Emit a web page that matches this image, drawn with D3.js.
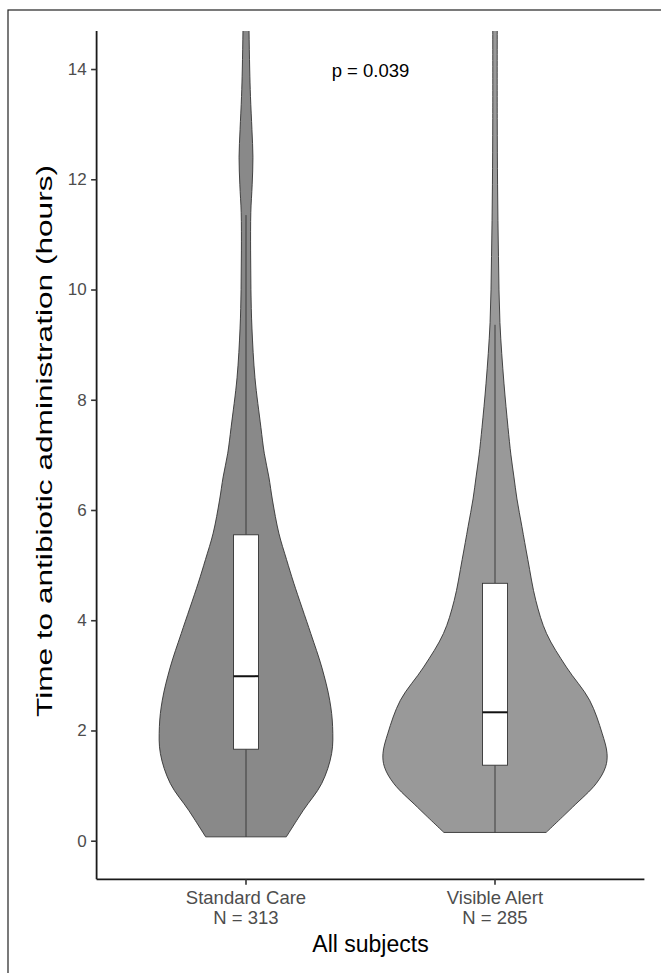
<!DOCTYPE html>
<html>
<head>
<meta charset="utf-8">
<script src="https://cdn.jsdelivr.net/npm/d3@7"></script>
<style>
  body { margin: 0; background: #fff; }
  svg text { font-family: "Liberation Sans", Arial, sans-serif; }
</style>
</head>
<body>
<svg id="chart" width="661" height="973"></svg>
<script>
// groups shown on the x axis
const groups = ['Standard Care', 'Visible Alert'];
const groupN = [313, 285];
const violinFill = ['#898989', '#999999'];

// violin outline: hours and relative density
const careHours = [0.07, 0.55, 1.04, 1.58, 2.07, 2.55, 3.15, 3.76, 4.67, 5.1, 5.58, 6.18, 6.6, 7.03, 7.5, 8.4, 9.3, 10.0, 10.7, 11.4, 11.9, 12.4, 12.9, 13.5, 14.0, 14.7, 15.2];
const careDensity = [0.36, 0.511, 0.676, 0.764, 0.773, 0.747, 0.676, 0.578, 0.427, 0.362, 0.293, 0.236, 0.204, 0.163, 0.133, 0.08, 0.053, 0.044, 0.041, 0.043, 0.055, 0.062, 0.053, 0.04, 0.033, 0.027, 0.022];
const alertHours = [0.15, 0.61, 1.04, 1.34, 1.58, 1.95, 2.55, 3.15, 3.76, 4.36, 5.1, 5.7, 6.2, 6.6, 7.0, 7.5, 8.3, 9.4, 10.6, 11.9, 13.1, 14.7, 15.2];
const alertDensity = [0.456, 0.693, 0.904, 0.987, 1.0, 0.956, 0.844, 0.637, 0.46, 0.364, 0.293, 0.24, 0.196, 0.169, 0.142, 0.116, 0.08, 0.044, 0.031, 0.023, 0.02, 0.02, 0.02];

// box plot stats: lower whisker, q1, median, q3, upper whisker
const careBox = [0.07, 1.66, 2.985, 5.55, 11.35];
const alertBox = [0.15, 1.37, 2.33, 4.67, 9.36];

const yTicks = [0, 2, 4, 6, 8, 10, 12, 14];
const pLabel = 'p = 0.039';

const violins = [
  { hours: careHours, dens: careDensity, box: careBox },
  { hours: alertHours, dens: alertDensity, box: alertBox }
];

const svg = d3.select('#chart');
const m = { left: 96.6, right: 644.4, top: 31, bottom: 879.3 };

// outer frame (only top and left edges fall inside the picture)
svg.append('rect')
  .attr('x', 8).attr('y', 10)
  .attr('width', 720).attr('height', 1000)
  .attr('fill', 'none')
  .attr('stroke', '#222')
  .attr('stroke-width', 1.2);

// discrete positions like ggplot: centers at 1 and 2 on a [0.4, 2.6] range
const xc = d3.scaleLinear().domain([0.4, 2.6]).range([m.left, m.right]);
const center = g => xc(groups.indexOf(g) + 1);
const unit = xc(2) - xc(1);

const y = d3.scaleLinear().domain([-0.70, 14.69]).range([m.bottom, m.top]);
const w = d3.scaleLinear().domain([0, 1]).range([0, unit * 0.45]);

svg.append('clipPath').attr('id', 'panel')
  .append('rect')
  .attr('x', m.left).attr('y', m.top)
  .attr('width', m.right - m.left).attr('height', m.bottom - m.top);

const panel = svg.append('g').attr('clip-path', 'url(#panel)');

violins.forEach((v, i) => {
  const cx = center(groups[i]);
  const pts = v.hours.map((h, j) => ({ h: h, d: v.dens[j] }));
  const area = d3.area()
    .y(d => y(d.h))
    .x0(d => cx - w(d.d))
    .x1(d => cx + w(d.d))
    .curve(d3.curveCatmullRom);

  panel.append('path')
    .datum(pts)
    .attr('d', area)
    .attr('fill', violinFill[i])
    .attr('stroke', '#333')
    .attr('stroke-width', 0.9);

  const bw = unit * 0.1;
  const b = v.box;
  // whiskers
  panel.append('line')
    .attr('x1', cx).attr('x2', cx)
    .attr('y1', y(b[0])).attr('y2', y(b[1]))
    .attr('stroke', '#333').attr('stroke-width', 0.9);
  panel.append('line')
    .attr('x1', cx).attr('x2', cx)
    .attr('y1', y(b[3])).attr('y2', y(b[4]))
    .attr('stroke', '#333').attr('stroke-width', 0.9);
  // box
  panel.append('rect')
    .attr('x', cx - bw / 2).attr('width', bw)
    .attr('y', y(b[3])).attr('height', y(b[1]) - y(b[3]))
    .attr('fill', '#fff')
    .attr('stroke', '#333').attr('stroke-width', 0.9);
  panel.append('line')
    .attr('x1', cx - bw / 2).attr('x2', cx + bw / 2)
    .attr('y1', y(b[2])).attr('y2', y(b[2]))
    .attr('stroke', '#111').attr('stroke-width', 2);
});

// y axis
const yAxis = svg.append('g')
  .attr('transform', `translate(${m.left},0)`)
  .call(d3.axisLeft(y).tickValues(yTicks).tickSize(5.5).tickPadding(4.5));
yAxis.select('.domain').attr('stroke', '#1a1a1a').attr('stroke-width', 1.8)
  .attr('d', `M0,${m.top}V${m.bottom}`);
yAxis.selectAll('.tick line').attr('stroke', '#333').attr('stroke-width', 1.6);
yAxis.selectAll('.tick text')
  .attr('fill', '#4d4d4d')
  .style('font-size', '17px');

// x axis
const xAxis = svg.append('g')
  .attr('transform', `translate(0,${m.bottom})`);
xAxis.append('line')
  .attr('x1', m.left).attr('x2', m.right)
  .attr('stroke', '#1a1a1a').attr('stroke-width', 1.8);
groups.forEach((g, i) => {
  const cx = center(g);
  xAxis.append('line')
    .attr('x1', cx).attr('x2', cx)
    .attr('y1', 0).attr('y2', 5.5)
    .attr('stroke', '#333').attr('stroke-width', 1.6);
  const t = xAxis.append('text')
    .attr('x', cx)
    .attr('text-anchor', 'middle')
    .attr('fill', '#4d4d4d')
    .style('font-size', '18.5px');
  t.append('tspan').attr('x', cx).attr('y', 25).text(g);
  t.append('tspan').attr('x', cx).attr('y', 45).text('N = ' + groupN[i]);
});

// axis titles
svg.append('text')
  .attr('x', (m.left + m.right) / 2)
  .attr('y', 952)
  .attr('text-anchor', 'middle')
  .attr('fill', '#000')
  .style('font-size', '23px')
  .text('All subjects');

svg.append('text')
  .attr('transform', 'translate(52,441) rotate(-90)')
  .attr('text-anchor', 'middle')
  .attr('fill', '#000')
  .attr('textLength', 552)
  .attr('lengthAdjust', 'spacingAndGlyphs')
  .style('font-size', '22px')
  .text('Time to antibiotic administration (hours)');

// p value annotation
svg.append('text')
  .attr('x', xc(1.5))
  .attr('y', y(14) + 7.5)
  .attr('text-anchor', 'middle')
  .attr('fill', '#000')
  .style('font-size', '18.5px')
  .text(pLabel);
</script>
</body>
</html>
